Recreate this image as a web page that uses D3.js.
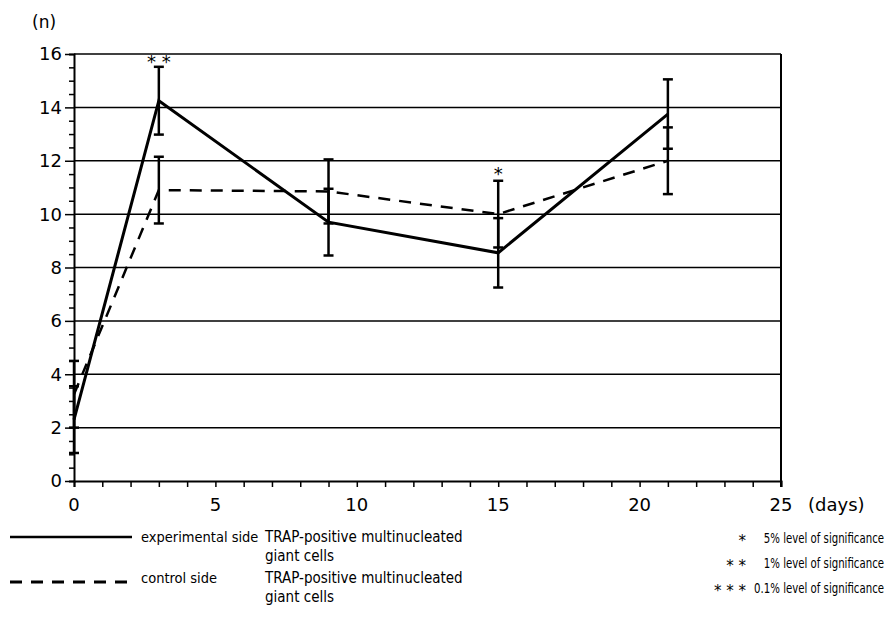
<!DOCTYPE html>
<html>
<head>
<meta charset="utf-8">
<script src="https://cdn.jsdelivr.net/npm/d3@7"></script>
<style>
  html, body { margin: 0; padding: 0; background: #fff; }
  svg text { fill: #000; }
</style>
</head>
<body>
<div id="chart"></div>
<script>
/* TRAP-positive multinucleated giant cells — line chart with error bars */

const days = [0, 3, 9, 15, 21];
const experimental = [2.3, 14.25, 9.7, 8.55, 13.75];
const experimentalErr = [1.25, 1.27, 1.25, 1.3, 1.3];
const control = [3.25, 10.9, 10.85, 10.0, 12.0];
const controlErr = [1.25, 1.25, 1.2, 1.25, 1.25];
// significance marks, placed just above the upper cap
const stars = [{ day: 3, v: 15.8, text: '* *' }, { day: 15, v: 11.6, text: '*' }];
const xTicks = [0, 5, 10, 15, 20, 25];
const yTicks = [0, 2, 4, 6, 8, 10, 12, 14, 16];

const width = 889, height = 637;
const svg = d3.select('#chart').append('svg')
  .attr('width', width).attr('height', height);

const x = d3.scaleLinear().domain([0, 25]).range([74, 781]);
const y = d3.scaleLinear().domain([0, 16]).range([481, 54]);

const FONT = '"DejaVu Sans", sans-serif';
const NARROW = '"Liberation Sans Narrow", "DejaVu Sans Condensed", sans-serif';

// Gridlines
svg.append('g')
  .selectAll('line')
  .data(yTicks.filter(d => d > 0))
  .join('line')
  .attr('x1', x(0)).attr('x2', x(25))
  .attr('y1', d => y(d)).attr('y2', d => y(d))
  .attr('stroke', '#000').attr('stroke-width', 1.5);

// Right border
svg.append('line')
  .attr('x1', x(25)).attr('x2', x(25))
  .attr('y1', y(16)).attr('y2', y(0) + 6)
  .attr('stroke', '#000').attr('stroke-width', 2);

// Axes
const yAxis = svg.append('g')
  .attr('transform', `translate(${x(0)},0)`)
  .call(d3.axisLeft(y).tickValues(d3.range(0, 16.01, 0.5)).tickSize(5).tickFormat(''));
yAxis.select('.domain').attr('stroke-width', 2);
yAxis.selectAll('.tick line').attr('stroke-width', 1.5)
  .attr('x2', d => (d % 2 === 0 ? -9 : -5));

const xAxis = svg.append('g')
  .attr('transform', `translate(0,${y(0)})`)
  .call(d3.axisBottom(x).tickValues(d3.range(0, 26, 1)).tickSize(6).tickFormat(''));
xAxis.select('.domain').attr('stroke-width', 2);
xAxis.selectAll('.tick line').attr('stroke-width', 1.5);

// Tick labels
svg.append('g')
  .selectAll('text')
  .data(yTicks)
  .join('text')
  .attr('x', 62).attr('y', d => y(d))
  .attr('dy', '0.36em')
  .attr('text-anchor', 'end')
  .attr('font-family', FONT).attr('font-size', 18)
  .text(d => d);

svg.append('g')
  .selectAll('text')
  .data(xTicks)
  .join('text')
  .attr('x', d => x(d)).attr('y', 505)
  .attr('dy', '0.36em')
  .attr('text-anchor', 'middle')
  .attr('font-family', FONT).attr('font-size', 18)
  .text(d => d);

svg.append('text').attr('x', 32).attr('y', 22).attr('dy', '0.36em')
  .attr('font-family', FONT).attr('font-size', 17).text('(n)');
svg.append('text').attr('x', 808).attr('y', 505).attr('dy', '0.36em')
  .attr('font-family', FONT).attr('font-size', 18).text('(days)');

// Lines
const line = d3.line().x(d => x(d[0])).y(d => y(d[1]));

svg.append('path')
  .datum(days.map((d, i) => [d, control[i]]))
  .attr('d', line)
  .attr('fill', 'none').attr('stroke', '#000')
  .attr('stroke-width', 2.5).attr('stroke-dasharray', '12,9');

svg.append('path')
  .datum(days.map((d, i) => [d, experimental[i]]))
  .attr('d', line)
  .attr('fill', 'none').attr('stroke', '#000')
  .attr('stroke-width', 3);

// Error bars
function errorBars(vals, errs) {
  const data = days.map((d, i) => ({ d, lo: vals[i] - errs[i], hi: vals[i] + errs[i] }));
  const g = svg.append('g').attr('stroke', '#000');
  g.selectAll('line.v').data(data).join('line')
    .attr('x1', e => x(e.d)).attr('x2', e => x(e.d))
    .attr('y1', e => y(e.lo)).attr('y2', e => y(e.hi))
    .attr('stroke-width', 2.5);
  ['lo', 'hi'].forEach(k => {
    g.selectAll('line.' + k).data(data).join('line')
      .attr('x1', e => x(e.d) - 5).attr('x2', e => x(e.d) + 5)
      .attr('y1', e => y(e[k])).attr('y2', e => y(e[k]))
      .attr('stroke-width', 2.5);
  });
}
errorBars(experimental, experimentalErr);
errorBars(control, controlErr);

// Significance stars (asterisk glyph sits high, so push baseline down)
svg.append('g')
  .selectAll('text')
  .data(stars)
  .join('text')
  .attr('x', d => x(d.day)).attr('y', d => y(d.v) + 9)
  .attr('text-anchor', 'middle')
  .attr('font-family', FONT).attr('font-size', 18)
  .text(d => d.text);

// Legend
const legend = svg.append('g').attr('font-family', NARROW).attr('font-size', 15);

legend.append('line').attr('x1', 10).attr('x2', 132).attr('y1', 537).attr('y2', 537)
  .attr('stroke', '#000').attr('stroke-width', 2.5);
legend.append('line').attr('x1', 10).attr('x2', 130).attr('y1', 582).attr('y2', 582)
  .attr('stroke', '#000').attr('stroke-width', 3).attr('stroke-dasharray', '12,9');

const legendRows = [
  { y: 537, side: 'experimental side' },
  { y: 578, side: 'control side' },
];
legendRows.forEach(r => {
  legend.append('text').attr('x', 141).attr('y', r.y).attr('dy', '0.35em')
    .attr('font-size', 14.5).text(r.side);
  legend.append('text').attr('x', 265).attr('y', r.y).attr('dy', '0.35em').text('TRAP-positive multinucleated');
  legend.append('text').attr('x', 265).attr('y', r.y + 19).attr('dy', '0.35em').text('giant cells');
});

const sigRows = [
  { y: 538, star: '*', text: '5% level of significance' },
  { y: 563, star: '* *', text: '1% level of significance' },
  { y: 588, star: '* * *', text: '0.1% level of significance' },
];
sigRows.forEach(r => {
  legend.append('text').attr('x', 746).attr('y', r.y + 8)
    .attr('text-anchor', 'end').attr('font-family', FONT).attr('font-size', 15).text(r.star);
  legend.append('text')
    .attr('transform', `translate(884,${r.y}) scale(0.78,1)`)
    .attr('dy', '0.35em')
    .attr('text-anchor', 'end')
    .attr('font-size', 14.5)
    .text(r.text);
});
</script>
</body>
</html>
